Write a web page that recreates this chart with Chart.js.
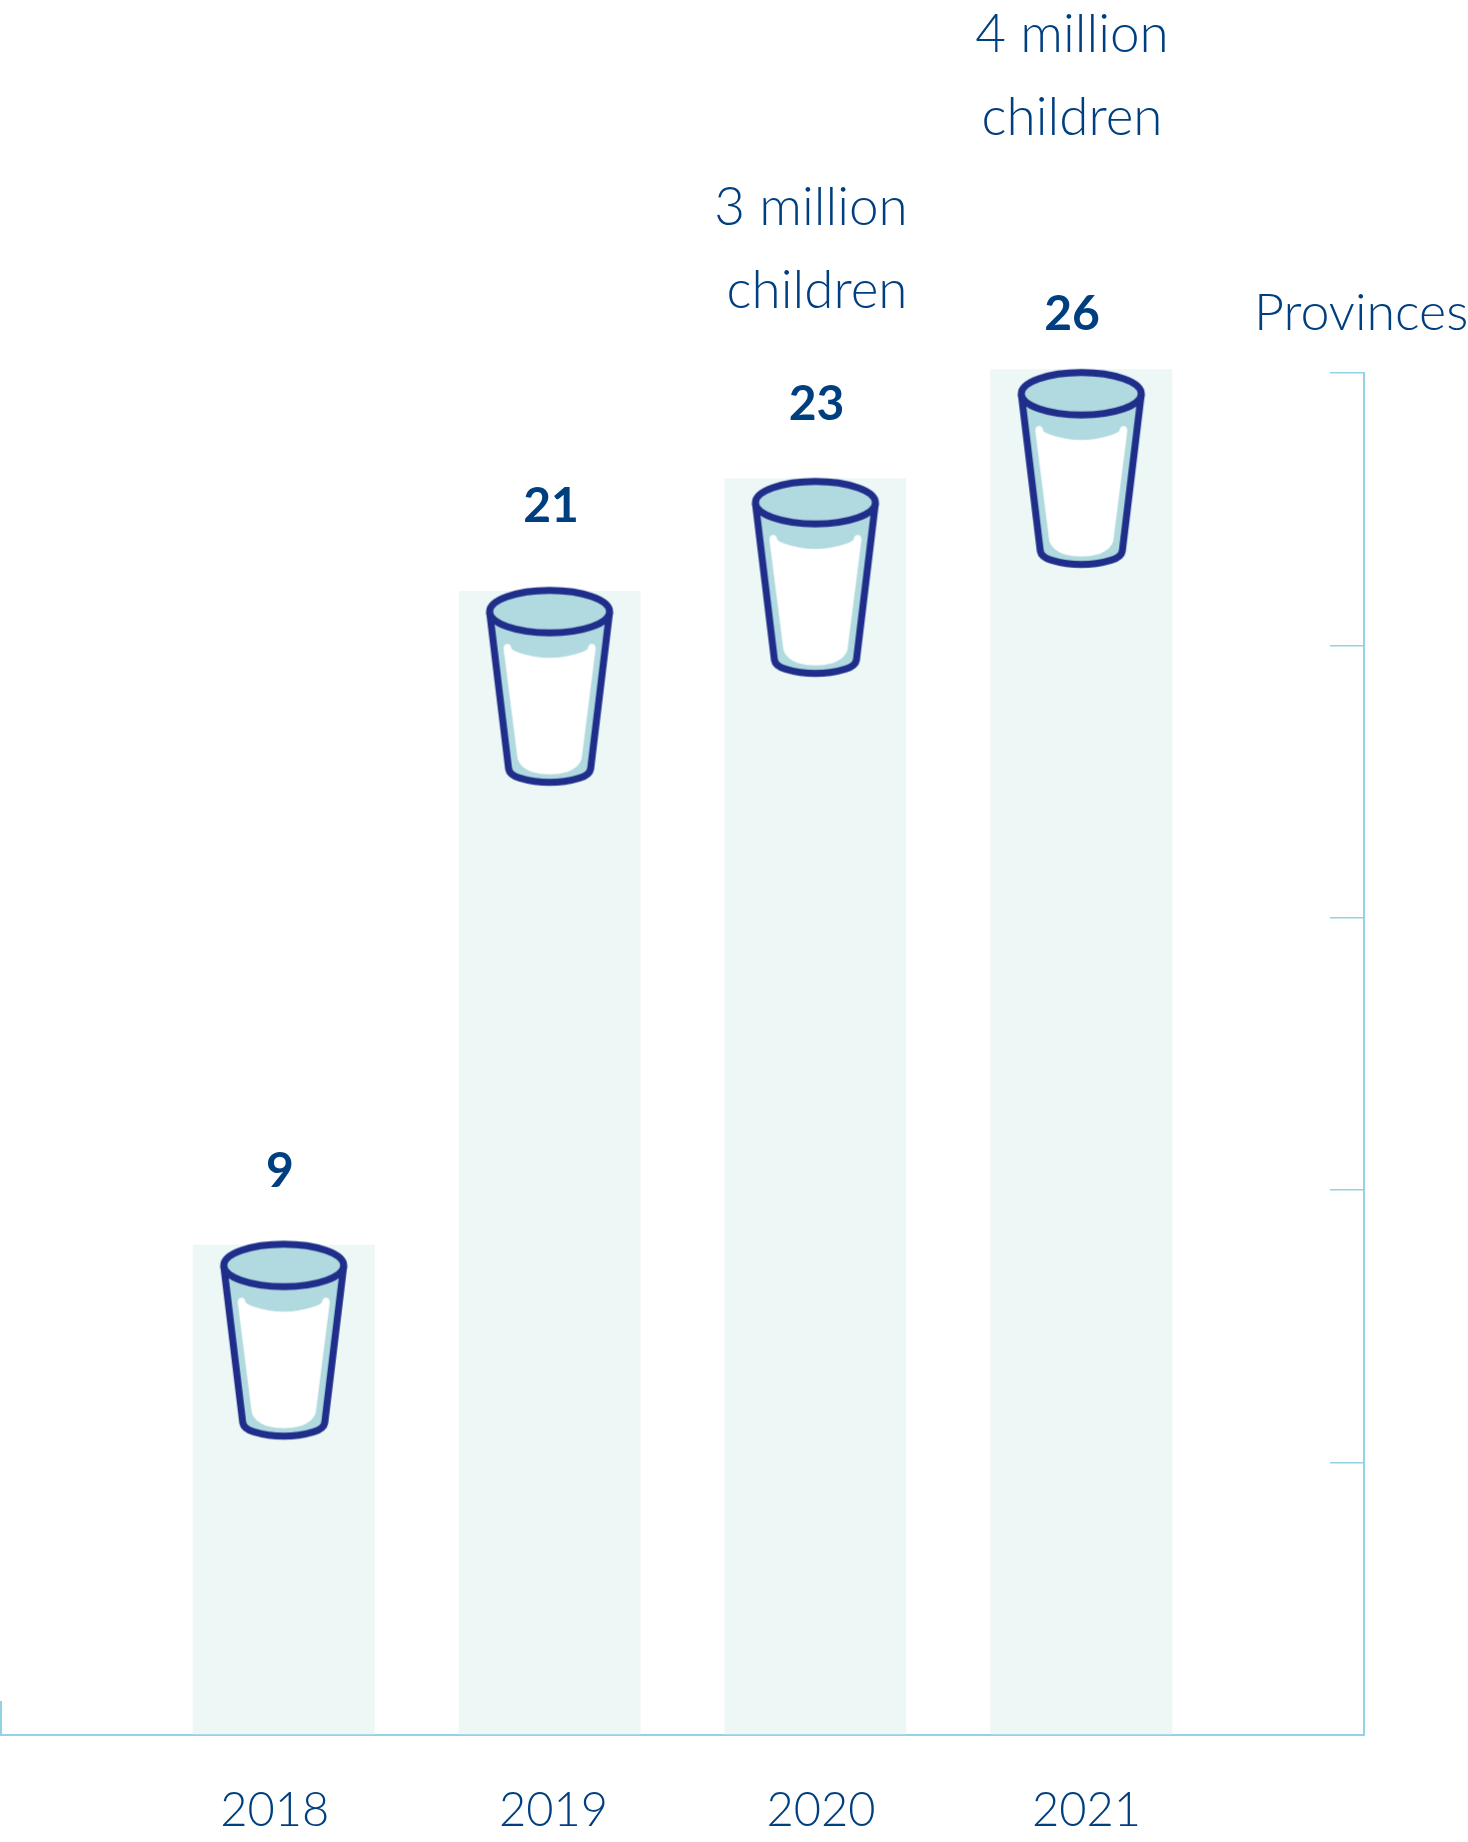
<!DOCTYPE html>
<html>
<head>
<meta charset="utf-8">
<style>
  html, body { margin: 0; padding: 0; background: #fff; }
  canvas { display: block; }
</style>
<script src="https://cdn.jsdelivr.net/npm/chart.js@4/dist/chart.umd.min.js"></script>
</head>
<body>
<canvas id="milkChart" width="1468" height="1842"></canvas>
<script>
const years = [2018, 2019, 2020, 2021];
const provinces = [9, 21, 23, 26];
// drawn heights (the 2021 bar stops just above the top tick)
const barLevels = [9, 21, 23.07, 25.07];
// level of the middle of each glass rim
const rimLevels = [8.62, 20.62, 22.62, 24.62];
const yearTicks = [2017.966, 2019.015, 2020.021, 2021.02];
const noteLines = [[], [], ['3 million', 'children'], ['4 million', 'children']];
const unitLabel = 'Provinces';

const TEXT = '#003f7f';
const AXIS = '#93d1e5';
const BAR = '#edf7f6';
const NOTE_FONT = '300 53px Lato';
const UNIT_FONT = '300 52px Lato';
const BOLD_FONT = '700 48px Lato';

// Glass icon, placed so the middle of the rim is the centre of the canvas
function makeGlass() {
  const c = document.createElement('canvas');
  c.width = 134;
  c.height = 410;
  const g = c.getContext('2d');
  g.translate(67, 205 - 24.7);

  const body = new Path2D('M -60 25 L -41 182 Q -40 188 -30 191 Q 0 200 30 191 Q 40 188 41 182 L 60 25');
  g.fillStyle = '#b0dadf';
  g.fill(body);

  g.fillStyle = '#fff';
  g.fill(new Path2D('M -46 62 Q -46 57 -42 57 Q -39 57 -38 62 Q -36 64 -30 66 Q 0 76 30 66 Q 36 64 38 62 Q 39 57 42 57 Q 46 57 46 62 L 32 172 Q 30 180 18 185 Q 0 190 -18 185 Q -30 180 -32 172 Z'));

  g.strokeStyle = '#1f2e8a';
  g.lineWidth = 7;
  g.lineJoin = 'round';
  g.stroke(body);
  g.beginPath();
  g.ellipse(0, 24.7, 60, 21.2, 0, 0, Math.PI * 2);
  g.fillStyle = '#b0dadf';
  g.fill();
  g.stroke();
  return c;
}

// Text around the bars and the small cap at the left end of the base line
const labelsPlugin = {
  id: 'labels',
  afterDraw(chart) {
    const { ctx, chartArea, scales } = chart;
    ctx.save();

    ctx.strokeStyle = AXIS;
    ctx.lineWidth = 2;
    ctx.beginPath();
    ctx.moveTo(chartArea.left, scales.y.getPixelForValue(0.625));
    ctx.lineTo(chartArea.left, chartArea.bottom);
    ctx.stroke();

    ctx.fillStyle = TEXT;
    ctx.textBaseline = 'alphabetic';
    ctx.textAlign = 'center';

    ctx.font = BOLD_FONT;
    const valueSpots = [[280, 1187], [551, 522], [816.5, 420], [1072, 330]];
    provinces.forEach((v, i) => ctx.fillText(String(v), valueSpots[i][0], valueSpots[i][1]));

    ctx.font = NOTE_FONT;
    const noteSpots = [null, null, [[811, 225], [817, 308]], [[1072, 52], [1072, 135]]];
    noteLines.forEach((lines, i) => {
      lines.forEach((line, j) => ctx.fillText(line, noteSpots[i][j][0], noteSpots[i][j][1]));
    });

    ctx.font = UNIT_FONT;
    ctx.textAlign = 'left';
    ctx.fillText(unitLabel, 1254, 330);
    ctx.restore();
  }
};

new Chart(document.getElementById('milkChart'), {
  data: {
    datasets: [
      {
        type: 'line',
        order: 0,
        clip: false,
        showLine: false,
        borderWidth: 0,
        pointStyle: makeGlass(),
        pointRadius: 0.5,
        pointHoverRadius: 0,
        pointHoverBorderWidth: 0,
        data: years.map((y, i) => ({ x: y, y: rimLevels[i] }))
      },
      {
        type: 'bar',
        order: 1,
        clip: false,
        backgroundColor: BAR,
        barPercentage: 0.685,
        categoryPercentage: 1,
        data: years.map((y, i) => ({ x: y, y: barLevels[i] }))
      }
    ]
  },
  options: {
    responsive: false,
    animation: false,
    layout: { padding: { top: 373, left: 1, right: 104, bottom: 0 } },
    plugins: { legend: { display: false }, tooltip: { enabled: false } },
    scales: {
      x: {
        type: 'linear',
        offset: false,
        min: 2016.9366,
        max: 2022.0634,
        afterBuildTicks: scale => { scale.ticks = yearTicks.map(value => ({ value })); },
        afterFit: scale => { scale.height = 107; scale.paddingLeft = 0; scale.paddingRight = 0; },
        grid: { display: false },
        border: { color: AXIS, width: 2 },
        ticks: {
          color: TEXT,
          font: { family: 'Lato', size: 47, weight: '300' },
          padding: 40,
          maxRotation: 0,
          autoSkip: false,
          callback: value => String(Math.round(value))
        }
      },
      y: {
        position: 'right',
        min: 0,
        max: 25,
        afterFit: scale => { scale.width = 0; },
        grid: { drawOnChartArea: false, color: AXIS, lineWidth: 1.5, tickLength: -34 },
        border: { color: AXIS, width: 2 },
        ticks: { display: false, stepSize: 5 }
      }
    }
  },
  plugins: [labelsPlugin]
});
</script>
</body>
</html>
